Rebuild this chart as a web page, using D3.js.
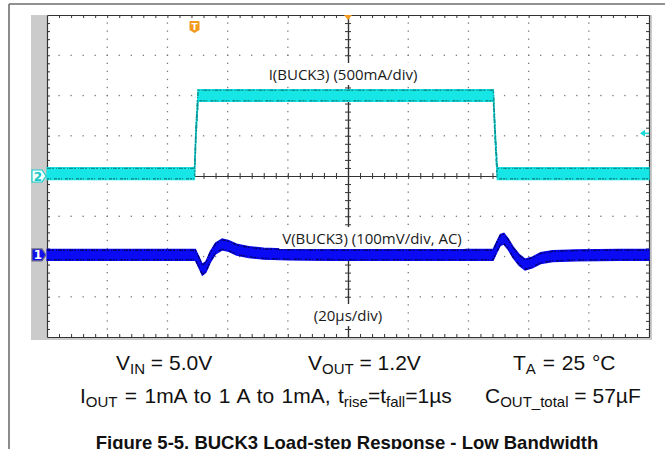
<!DOCTYPE html>
<html>
<head>
<meta charset="utf-8">
<script src="https://cdn.jsdelivr.net/npm/d3@7"></script>
<style>
html, body { margin: 0; padding: 0; background: #fff; }
svg { display: block; }
</style>
</head>
<body>
<svg id="chart" width="665" height="449"></svg>
<script>
// values read off the scope shot
// channel 2: load current (A) vs time (µs)
var iTime = [0, 49.0, 49.5, 50.2, 148.3, 148.9, 149.6, 200];
var iAmps = [0.03, 0.03, 0.55, 1.0, 1.0, 0.5, 0.03, 0.03];
// channel 1: output voltage, AC coupled (mV) vs time (µs)
var vTime = [0, 49.3, 50.4, 51.6, 52.8, 54.2, 56.0, 58.2, 60.4, 63.0, 67.0, 72.0, 80.0, 95.0,
             148.2, 149.4, 150.6, 151.8, 153.2, 154.8, 156.8, 158.8, 161.2, 164.0, 168.0, 176.0, 190.0, 200];
var vMilli = [0, 0, -17, -37, -30, -6, 16, 26, 22, 13, 7, 3, 1, 0,
              0, 19, 37, 40, 27, 7, -12, -24, -19, -8, -3, -1, 0, 0];

var hDivs = 10, vDivs = 8;
var usPerDiv = 20, mAPerDiv = 500, mVPerDiv = 100;
var ch2Offset = 0, ch1Offset = -1.96;   // trace ground level, in divisions from centre
var trigTime = 49;                      // µs, where the T marker sits

var chLabels = ["I(BUCK3) (500mA/div)", "V(BUCK3) (100mV/div, AC)", "(20µs/div)"];
var captionRow1 = [[["V", 0], ["IN", 1], [" = 5.0V", 0]],
                   [["V", 0], ["OUT", 1], [" = 1.2V", 0]],
                   [["T", 0], ["A", 1], [" = 25 °C", 0]]];
var captionRow2 = [[["I", 0], ["OUT", 1], [" = 1mA to 1 A to 1mA, t", 0], ["rise", 1], ["=t", 0], ["fall", 1], ["=1µs", 0]],
                   [["C", 0], ["OUT_total", 1], [" = 57µF", 0]]];
var figTitle = "Figure 5-5. BUCK3 Load-step Response - Low Bandwidth";

// layout
var plotL = 47, plotR = 649, plotT = 15, plotB = 337;
var svg = d3.select("#chart");

var x = d3.scaleLinear().domain([0, usPerDiv * hDivs]).range([plotL, plotR]);
var yDiv = d3.scaleLinear().domain([-vDivs / 2, vDivs / 2]).range([plotB, plotT]);
function yCur(a) { return yDiv(a * 1000 / mAPerDiv + ch2Offset); }
function yVolt(mv) { return yDiv(mv / mVPerDiv + ch1Offset); }

drawFrame();
drawGrid();
drawTraces();
drawLabels();
drawMarkers();
drawCaption();

function drawFrame() {
    // page border (top + left)
    svg.append("line").attr("x1", 9).attr("y1", 4).attr("x2", 665).attr("y2", 4)
        .style("stroke", "#6e6e6e").style("stroke-width", 1.6);
    svg.append("line").attr("x1", 9).attr("y1", 4).attr("x2", 9).attr("y2", 449)
        .style("stroke", "#6e6e6e").style("stroke-width", 1.6);
    // grey side strips of the scope display
    svg.append("rect").attr("x", 31).attr("y", plotT).attr("width", plotL - 31).attr("height", plotB - plotT + 3)
        .style("fill", "#cbcbcb");
    svg.append("rect").attr("x", plotL).attr("y", plotB).attr("width", plotR - plotL + 3).attr("height", 3)
        .style("fill", "#cbcbcb");
    svg.append("rect").attr("x", plotR).attr("y", plotT).attr("width", 3).attr("height", plotB - plotT)
        .style("fill", "#cbcbcb");
    svg.append("rect").attr("x", plotL).attr("y", plotT).attr("width", plotR - plotL).attr("height", plotB - plotT)
        .style("fill", "#fff");
}

function drawGrid() {
    var g = svg.append("g").attr("class", "grid");
    var xMinor = d3.range(0, hDivs * 5 + 1).map(function(i) { return i * usPerDiv / 5; });
    var yMinor = d3.range(0, vDivs * 5 + 1).map(function(i) { return -vDivs / 2 + i / 5; });
    var xMajor = d3.range(1, hDivs).filter(function(i) { return i != hDivs / 2; }).map(function(i) { return i * usPerDiv; });
    var yMajor = d3.range(1, vDivs).filter(function(i) { return i != vDivs / 2; }).map(function(i) { return -vDivs / 2 + i; });

    // dotted horizontal grid lines
    yMajor.forEach(function(yv) {
        g.selectAll(null).data(xMinor.slice(1, -1)).enter().append("rect")
            .attr("x", function(d) { return x(d) - 0.6; })
            .attr("y", yDiv(yv) - 0.6)
            .attr("width", 1.3).attr("height", 1.3)
            .style("fill", "#7a7a7a");
    });
    // dotted vertical grid lines
    xMajor.forEach(function(xv) {
        g.selectAll(null).data(yMinor.slice(1, -1)).enter().append("rect")
            .attr("x", x(xv) - 0.6)
            .attr("y", function(d) { return yDiv(d) - 0.6; })
            .attr("width", 1.3).attr("height", 1.3)
            .style("fill", "#7a7a7a");
    });

    var tickX = xMinor.slice(1, -1), tickY = yMinor.slice(1, -1);
    function style(sel) {
        sel.selectAll("text").remove();
        sel.selectAll("line").style("stroke", "#333").style("stroke-width", 1);
        sel.select(".domain").style("stroke", "#333").style("stroke-width", 1.2);
    }
    // border ticks
    g.append("g").attr("transform", "translate(0," + plotT + ")")
        .call(d3.axisBottom(x).tickValues(tickX).tickSize(3).tickSizeOuter(0)).call(style);
    g.append("g").attr("transform", "translate(0," + plotB + ")")
        .call(d3.axisTop(x).tickValues(tickX).tickSize(3).tickSizeOuter(0)).call(style);
    g.append("g").attr("transform", "translate(" + plotL + ",0)")
        .call(d3.axisRight(yDiv).tickValues(tickY).tickSize(3).tickSizeOuter(0)).call(style);
    g.append("g").attr("transform", "translate(" + plotR + ",0)")
        .call(d3.axisLeft(yDiv).tickValues(tickY).tickSize(3).tickSizeOuter(0)).call(style);
    // centre cross, ticks on both sides
    var cy = yDiv(0), cx = x(usPerDiv * hDivs / 2);
    g.append("g").attr("transform", "translate(0," + cy + ")")
        .call(d3.axisBottom(x).tickValues(tickX).tickSize(3).tickSizeOuter(0)).call(style);
    g.append("g").attr("transform", "translate(0," + cy + ")")
        .call(d3.axisTop(x).tickValues(tickX).tickSize(3).tickSizeOuter(0)).call(style);
    g.append("g").attr("transform", "translate(" + cx + ",0)")
        .call(d3.axisRight(yDiv).tickValues(tickY).tickSize(3).tickSizeOuter(0)).call(style);
    g.append("g").attr("transform", "translate(" + cx + ",0)")
        .call(d3.axisLeft(yDiv).tickValues(tickY).tickSize(3).tickSizeOuter(0)).call(style);
}

function drawTrace(times, vals, yf, half, fill, edge) {
    var pts = times.map(function(t, i) { return [t, vals[i]]; });
    var g = svg.append("g");
    g.append("path").datum(pts)
        .attr("d", d3.area()
            .x(function(d) { return x(d[0]); })
            .y0(function(d) { return yf(d[1]) + half; })
            .y1(function(d) { return yf(d[1]) - half; }))
        .style("fill", fill)
        .style("stroke", fill).style("stroke-width", 1.2);
    // noisy looking envelope edges
    [-half + 0.8, half - 0.8].forEach(function(off, k) {
        g.append("path").datum(pts)
            .attr("d", d3.line()
                .x(function(d) { return x(d[0]); })
                .y(function(d) { return yf(d[1]) + off; }))
            .style("fill", "none")
            .style("stroke", edge)
            .style("stroke-width", 1.4)
            .style("stroke-dasharray", k ? "2,1,1,3,3,1" : "4,1,2,2,1,1");
    });
}

function drawTraces() {
    drawTrace(iTime, iAmps, yCur, 6, "#16e6e6", "#0e8f8f");
    drawTrace(vTime, vMilli, yVolt, 5.5, "#0a0af5", "#02026e");
}

function drawLabels() {
    var pos = [[343, 80], [372, 244], [348, 321]];
    chLabels.forEach(function(txt, i) {
        var t = svg.append("text")
            .attr("x", pos[i][0]).attr("y", pos[i][1])
            .attr("text-anchor", "middle")
            .style("font-family", "'Open Sans', 'DejaVu Sans', sans-serif")
            .style("font-size", "15px")
            .style("fill", "#1a1a1a")
            .text(txt);
        var b = t.node().getBBox();
        svg.insert("rect", function() { return t.node(); })
            .attr("x", b.x - 3).attr("y", b.y - 1).attr("width", b.width + 6).attr("height", b.height + 2)
            .style("fill", "#fff");
    });
}

function drawMarkers() {
    // trigger "T" flag
    var tx = x(trigTime);
    var tg = svg.append("g").attr("transform", "translate(" + tx + "," + 21 + ")");
    tg.append("path").attr("d", "M-5,1 Q-5,0 -4,0 L4,0 Q5,0 5,1 L5,9 L0,12 L-5,9 Z").style("fill", "#f39a1e");
    tg.append("text").attr("x", 0).attr("y", 8.5).attr("text-anchor", "middle")
        .style("font-family", "'DejaVu Sans', sans-serif").style("font-size", "9px").style("font-weight", "bold")
        .style("fill", "#fff").text("T");
    // trigger position at top centre
    var cx = x(usPerDiv * hDivs / 2);
    svg.append("path").attr("d", "M" + (cx - 4) + "," + plotT + " L" + (cx + 4) + "," + plotT + " L" + cx + "," + (plotT + 5) + " Z")
        .style("fill", "#f39a1e");
    // trigger level arrow on the right
    var ly = yCur(0.53);
    svg.append("path").attr("d", "M" + (plotR - 9) + "," + ly + " L" + (plotR - 4) + "," + (ly - 3.5) + " L" + (plotR - 4) + "," + (ly + 3.5) + " Z")
        .style("fill", "#18d8d8");
    svg.append("line").attr("x1", plotR - 5).attr("x2", plotR).attr("y1", ly).attr("y2", ly)
        .style("stroke", "#18d8d8").style("stroke-width", 1.5);

    // channel ground markers
    var m2 = yCur(0), m1 = yVolt(0);
    function chMarker(y, fill, stroke, txtColor, label) {
        var g = svg.append("g").attr("transform", "translate(32," + y + ")");
        g.append("path").attr("d", "M0,-6 L10,-6 L14,0 L10,6 L0,6 Z")
            .style("fill", fill).style("stroke", stroke).style("stroke-width", 1.2);
        g.append("text").attr("x", 6).attr("y", 4.5).attr("text-anchor", "middle")
            .style("font-family", "'DejaVu Sans', sans-serif").style("font-size", "12px").style("font-weight", "bold")
            .style("fill", txtColor).text(label);
    }
    chMarker(m2, "#f2ffff", "#18d0d0", "#18c8c8", "2");
    chMarker(m1, "#1010e8", "#6a6a8a", "#fff", "1");
}

function drawCaption() {
    var font = "'Liberation Sans', Arial, sans-serif";
    function row(items, xs, y, spacing) {
        items.forEach(function(parts, i) {
            var t = svg.append("text").attr("x", xs[i]).attr("y", y)
                .style("font-family", font).style("font-size", "21px").style("fill", "#111")
                .style("word-spacing", (spacing[i] || 0) + "px");
            var down = false;
            parts.forEach(function(p) {
                var s = t.append("tspan").text(p[0]);
                if (p[1] && !down) { s.attr("dy", 4).style("font-size", "15px"); down = true; }
                else if (p[1]) { s.style("font-size", "15px"); }
                else if (down) { s.attr("dy", -4); down = false; }
            });
        });
    }
    row(captionRow1, [116, 308, 513], 370, [0, 0, 1]);
    row(captionRow2, [80, 485], 403, [1.5, 0]);
    svg.append("text").attr("x", 347).attr("y", 449).attr("text-anchor", "middle")
        .style("font-family", font).style("font-size", "18.5px").style("font-weight", "bold")
        .style("fill", "#111").text(figTitle);
}
</script>
</body>
</html>
